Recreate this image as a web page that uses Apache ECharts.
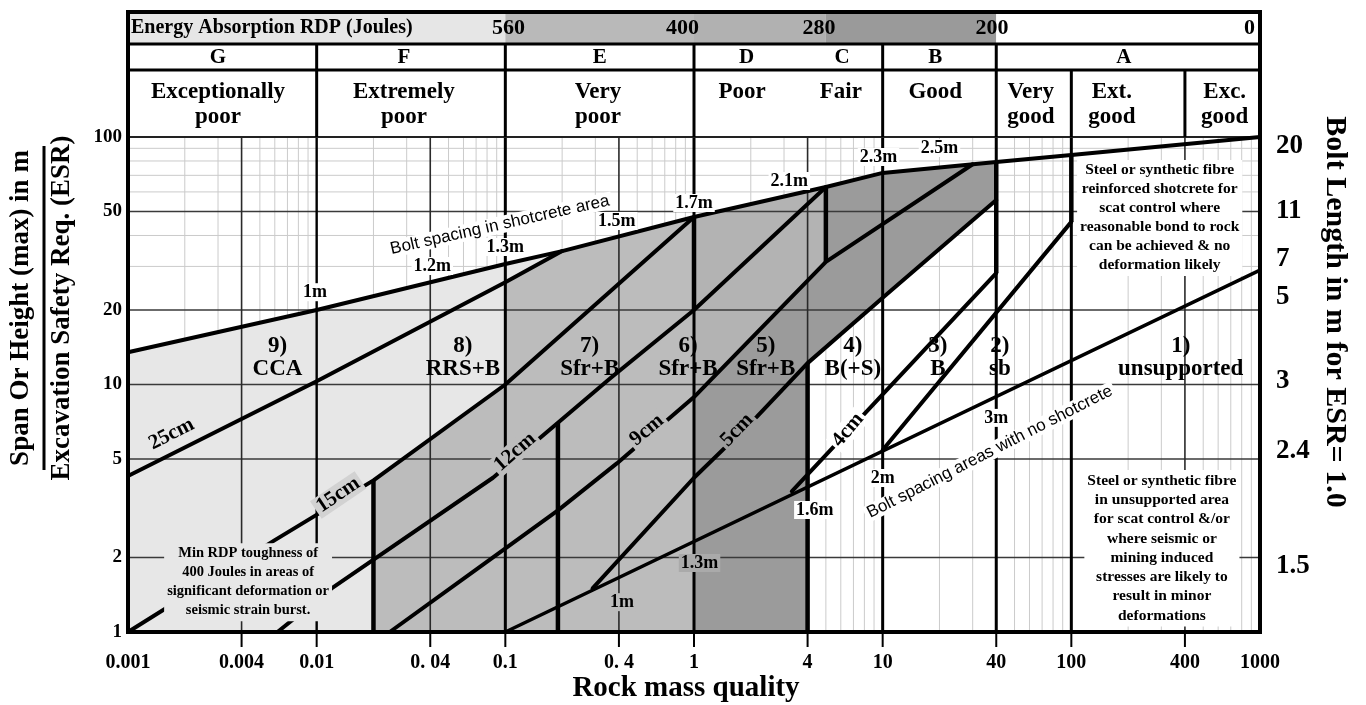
<!DOCTYPE html>
<html>
<head>
<meta charset="utf-8">
<title>Q-system support chart</title>
<script src="https://cdn.jsdelivr.net/npm/echarts@6.0.0/dist/echarts.min.js"></script>
<style>
html,body{margin:0;padding:0;background:#fff;}
#chart{width:1366px;height:705px;}
</style>
</head>
<body>
<div id="chart"></div>
<script>
// ================= DATA =================
const xTickValues = [0.001, 0.004, 0.01, 0.04, 0.1, 0.4, 1, 4, 10, 40, 100, 400, 1000];
const xTickLabels = ['0.001', '0.004', '0.01', '0. 04', '0.1', '0. 4', '1', '4', '10', '40', '100', '400', '1000'];
const yTickValues = [1, 2, 5, 10, 20, 50, 100];
const yTickLabels = ['1', '2', '5', '10', '20', '50', '100'];
const boltLengthLabels = ['20', '11', '7', '5', '3', '2.4', '1.5'];
const boltLengthSpan = [92, 50, 32, 22.6, 10.3, 5.4, 1.85];

const majorSpanGrid = [2, 5, 10, 20, 50];
const minorSpanGrid = [30, 40, 60, 70, 80, 90];
const majorQGrid = [0.004, 0.04, 0.4, 4, 400];
const classLineQ = [0.01, 0.1, 1, 10, 40, 100];

// header
const energyTitle = 'Energy Absorption RDP (Joules)';
const energyBandQ = [0.001, 0.1, 1, 5, 40, 1000];
const energyLabels = ['560', '400', '280', '200', '0'];
const energyLabelQ = [0.104, 0.87, 4.6, 38, 880];
const letterRowBoundaryQ = [0.01, 0.1, 1, 10, 40];
const qualityRowBoundaryQ = [0.01, 0.1, 1, 10, 40, 100, 400];
const classLetters = ['G', 'F', 'E', 'D', 'C', 'B', 'A'];
const classLetterQ = [0.003, 0.029, 0.317, 1.9, 6.1, 19, 190];
const qualityNames = ['Exceptionally\npoor', 'Extremely\npoor', 'Very\npoor', 'Poor', 'Fair', 'Good', 'Very\ngood', 'Ext.\ngood', 'Exc.\ngood'];
const qualityNameQ = [0.003, 0.029, 0.31, 1.8, 6.0, 19, 61, 164, 650];

// curves: [rock mass quality Q, span/ESR]
const upperBoltLine = [[0.001, 13.5], [0.01, 20], [0.1, 30.7], [0.2, 34.6], [1, 47.5], [5, 62.8], [10, 71.6], [40, 79.3], [100, 84.6], [1000, 100]];
const lowerBoltLine = [[0.1, 1], [1000, 29]];
const line25cm = [[0.001, 4.27], [0.01, 10.3], [0.1, 25.9], [0.2, 34.6]];
const line15cm = [[0.001, 1], [0.006, 2.35], [0.02, 4.1], [0.1, 10], [1, 47.5]];
const line12cm = [[0.0062, 1], [0.012, 1.5], [0.086, 4.2], [0.19, 7.0], [0.36, 10.6], [1, 20], [5, 62.8]];
const line9cm = [[0.0244, 1], [0.073, 1.83], [0.19, 3.1], [0.39, 4.8], [1, 8.9], [5, 31.3], [30, 77.6]];
const line5cm = [[0.29, 1.5], [1, 4.2], [2.15, 7.4], [4, 12.2], [10, 22.4], [40, 55.6]];
const line4cm = [[3.3, 3.7], [40, 28.2]];
const lineBolting = [[10, 5.44], [100, 45.4]];
// vertical boundaries: [Q, span from, span to]
const verticalBounds = [[0.02, 1, 4.1], [0.19, 1, 7.0], [1, 20, 47.5], [4, 1, 12.2], [5, 31.3, 62.8], [40, 28.2, 79.3], [100, 45.4, 84.6]];

// annotations (text, anchor [Q, span])
const upperSpacingText = ['1m', '1.2m', '1.3m', '1.5m', '1.7m', '2.1m', '2.3m', '2.5m'];
const upperSpacingAt = [[0.0098, 23.6], [0.041, 30.1], [0.1, 35.9], [0.39, 45.8], [1, 54.1], [3.2, 66.4], [9.5, 83], [20, 90.3]];
const lowerSpacingText = ['1m', '1.3m', '1.6m', '2m', '3m'];
const lowerSpacingAt = [[0.415, 1.32], [1.07, 1.9], [4.37, 3.11], [10, 4.19], [40, 7.33]];
const thicknessText = ['25cm', '15cm', '12cm', '9cm', '5cm', '4cm'];
const thicknessAt = [[0.0017, 6.3], [0.013, 3.58], [0.1125, 5.34], [0.563, 6.55], [1.69, 6.55], [6.54, 6.55]];
const regionText = ['9)\nCCA', '8)\nRRS+B', '7)\nSfr+B', '6)\nSfr+B', '5)\nSfr+B', '4)\nB(+S)', '3)\nB', '2)\nsb', '1)\nunsupported'];
const regionQ = [0.0062, 0.0596, 0.28, 0.93, 2.4, 6.95, 19.6, 41.8, 380];
const regionSpan = 12.8;
const upperLineTitle = 'Bolt spacing in shotcrete area';
const upperLineTitleAt = [0.0935, 44.1];
const lowerLineTitle = 'Bolt spacing areas with no shotcrete';
const lowerLineTitleAt = [37, 5.34];
const noteRDP = 'Min RDP toughness of\n400 Joules in areas of\nsignificant deformation or\nseismic strain burst.';
const noteRDPAt = [0.00433, 1.59];
const noteShotcrete = 'Steel or synthetic fibre\nreinforced shotcrete for\nscat control where\nreasonable bond to rock\ncan be achieved & no\ndeformation likely';
const noteShotcreteAt = [294, 47.1];
const noteUnsupported = 'Steel or synthetic fibre\nin unsupported area\nfor scat control &/or\nwhere seismic or\nmining induced\nstresses are likely to\nresult in minor\ndeformations';
const noteUnsupportedAt = [302, 2.18];

const xTitle = 'Rock mass quality';
const yTitleTop = 'Span Or Height (max) in m';
const yTitleBottom = 'Excavation Safety Req. (ESR)';
const rightTitle = 'Bolt Length in m for ESR= 1.0';

// ================= STYLE =================
const SERIF = '"Liberation Serif","Times New Roman",serif';
const SANS = '"Liberation Sans",Arial,sans-serif';
const fnt = (px, fam) => 'bold ' + px + 'px ' + (fam || SERIF);
const FILL = { light: '#e7e7e7', mid: '#bcbcbc', mid2: '#b3b3b3', dark: '#9b9b9b' };
const ENERGY_COLORS = ['#e6e6e6', '#b9b9b9', '#b1b1b1', '#9a9a9a', '#ffffff'];
const THICK_ROT = [27, 34, 41, 40, 46, 50];
const THICK_BG = ['transparent', '#d2d2d2', FILL.mid, FILL.mid, FILL.dark, '#ffffff'];
const LOWER_BG = [FILL.mid, '#aaaaaa', '#ffffff', '#ffffff', '#ffffff'];

function seg(x1, y1, x2, y2, stroke, w) {
  return { type: 'line', shape: { x1, y1, x2, y2 }, style: { stroke, lineWidth: w } };
}
function txt(x, y, text, font, extra, rotDeg) {
  return {
    type: 'text', x, y, rotation: (rotDeg || 0) * Math.PI / 180,
    style: Object.assign({ text, font, fill: '#000', align: 'center', verticalAlign: 'middle' }, extra || {})
  };
}
function layer(name, z, build) {
  return {
    type: 'custom', name, z, silent: true, clip: false, animation: false,
    xAxisIndex: 0, yAxisIndex: 0, data: [[1, 1]],
    renderItem: (params, api) => ({ type: 'group', children: build(api) })
  };
}
function curve(name, data, w) {
  return {
    type: 'line', name, data, z: 4, showSymbol: false, symbol: 'none', silent: true, animation: false,
    lineStyle: { color: '#000', width: w, cap: 'round', join: 'round' }
  };
}
// pick the points of a curve between two Q values
function pick(line, qa, qb, rev) {
  const r = line.filter(p => p[0] >= qa * 0.9999 && p[0] <= qb * 1.0001);
  return rev ? r.slice().reverse() : r;
}

const polyLight = [[0.001, 1], ...pick(upperBoltLine, 0.001, 0.2), [0.2, 1]];
const polyMid = [[0.02, 1], ...pick(line15cm, 0.02, 0.1), ...pick(line25cm, 0.1, 0.2), ...pick(upperBoltLine, 0.2, 1), [1, 1]];
const polyMid2 = [...pick(upperBoltLine, 1, 5), ...pick(line9cm, 1, 5, true)];
const polyDark = [[1, 1], ...pick(line9cm, 1, 5), ...pick(upperBoltLine, 5, 40), ...pick(line5cm, 4, 40, true), [4, 1]];

// ================= LAYERS =================
function buildMinorGrid(api) {
  const out = [];
  const [xl, yb] = api.coord([0.001, 1]);
  const [xr, yt] = api.coord([1000, 100]);
  for (let e = -3; e < 3; e++) {
    const d = Math.pow(10, e);
    for (let m = 2; m <= 9; m++) {
      if (m === 4) continue;
      const x = api.coord([d * m, 1])[0];
      out.push(seg(x, yt, x, yb, '#cbcbcb', 1));
    }
  }
  minorSpanGrid.forEach(s => { const y = api.coord([1, s])[1]; out.push(seg(xl, y, xr, y, '#cbcbcb', 1)); });
  return out;
}
function buildFills(api) {
  const P = arr => arr.map(p => api.coord(p));
  const out = [];
  [[polyLight, FILL.light], [polyMid, FILL.mid], [polyMid2, FILL.mid2], [polyDark, FILL.dark]].forEach(([pts, c]) => {
    out.push({ type: 'polygon', shape: { points: P(pts) }, style: { fill: c } });
  });
  // header energy bands
  const top = api.coord([1, 100])[1];
  const yF = top - 125, y1 = top - 93;
  for (let i = 0; i < energyBandQ.length - 1; i++) {
    const a = api.coord([energyBandQ[i], 100])[0], b = api.coord([energyBandQ[i + 1], 100])[0];
    out.push({ type: 'rect', shape: { x: a, y: yF, width: b - a, height: y1 - yF }, style: { fill: ENERGY_COLORS[i] } });
  }
  return out;
}
function buildMajorGrid(api) {
  const out = [];
  const [xl, yb] = api.coord([0.001, 1]);
  const [xr, yt] = api.coord([1000, 100]);
  majorSpanGrid.forEach(s => { const y = api.coord([1, s])[1]; out.push(seg(xl, y, xr, y, '#3a3a3a', 1.6)); });
  majorQGrid.forEach(q => { const x = api.coord([q, 1])[0]; out.push(seg(x, yt, x, yb, '#2a2a2a', 1.6)); });
  classLineQ.forEach(q => { const x = api.coord([q, 1])[0]; out.push(seg(x, yt, x, yb, '#000', q === 0.01 ? 2.4 : 3)); });
  out.push(seg(xl, yt, xr, yt, '#222', 2));
  // header separators
  const yF = yt - 125, y1 = yt - 93, y2 = yt - 67;
  out.push(seg(xl, y1, xr, y1, '#000', 3));
  out.push(seg(xl, y2, xr, y2, '#000', 3));
  letterRowBoundaryQ.forEach(q => { const x = api.coord([q, 1])[0]; out.push(seg(x, y1, x, y2, '#000', 3)); });
  qualityRowBoundaryQ.forEach(q => { const x = api.coord([q, 1])[0]; out.push(seg(x, y2, x, yt, '#000', 3)); });
  // x ticks
  xTickValues.slice(1, -1).forEach(q => { const x = api.coord([q, 1])[0]; out.push(seg(x, yb, x, yb + 15, '#000', 2)); });
  return out;
}
function buildVerticals(api) {
  return verticalBounds.map(v => {
    const a = api.coord([v[0], v[1]]), b = api.coord([v[0], v[2]]);
    return seg(a[0], a[1], b[0], b[1], '#000', 4.5);
  });
}
function buildFrame(api) {
  const [xl, yb] = api.coord([0.001, 1]);
  const [xr, yt] = api.coord([1000, 100]);
  const yF = yt - 125;
  return [{ type: 'rect', shape: { x: xl, y: yF, width: xr - xl, height: yb - yF }, style: { fill: 'none', stroke: '#000', lineWidth: 4 } }];
}
function buildLabels(api) {
  const C = p => api.coord(p);
  const out = [];
  upperSpacingText.forEach((t, i) => { const p = C(upperSpacingAt[i]); out.push(txt(p[0], p[1], t, fnt(18), { backgroundColor: '#fff', padding: [0, 2] })); });
  lowerSpacingText.forEach((t, i) => { const p = C(lowerSpacingAt[i]); out.push(txt(p[0], p[1], t, fnt(18), { backgroundColor: LOWER_BG[i], padding: [0, 2] })); });
  thicknessText.forEach((t, i) => { const p = C(thicknessAt[i]); out.push(txt(p[0], p[1], t, fnt(21), { backgroundColor: THICK_BG[i], padding: [0, 3] }, THICK_ROT[i])); });
  regionText.forEach((t, i) => { const p = C([regionQ[i], regionSpan]); out.push(txt(p[0], p[1], t, fnt(23), { lineHeight: 23 })); });
  let p = C(upperLineTitleAt);
  out.push(txt(p[0], p[1], upperLineTitle, 'normal 17px ' + SANS, { backgroundColor: '#fff', padding: [0, 3] }, 12.6));
  p = C(lowerLineTitleAt);
  out.push(txt(p[0], p[1], lowerLineTitle, 'normal 17px ' + SANS, { backgroundColor: '#fff', padding: [0, 3] }, 27));
  p = C(noteRDPAt);
  out.push(txt(p[0], p[1], noteRDP, fnt(14.5), { lineHeight: 19, backgroundColor: FILL.light, padding: [1, 3] }));
  p = C(noteShotcreteAt);
  out.push(txt(p[0], p[1], noteShotcrete, fnt(15.5), { lineHeight: 19, backgroundColor: '#fff', padding: [1, 3] }));
  p = C(noteUnsupportedAt);
  out.push(txt(p[0], p[1], noteUnsupported, fnt(15.5), { lineHeight: 19.3, backgroundColor: '#fff', padding: [1, 3] }));
  return out;
}
function buildText(api) {
  const out = [];
  const [xl, yb] = api.coord([0.001, 1]);
  const [xr, yt] = api.coord([1000, 100]);
  // header
  const yF = yt - 125, y1 = yt - 93, y2 = yt - 67;
  out.push(txt(xl + 3, (yF + y1) / 2, energyTitle, fnt(20), { align: 'left' }));
  energyLabels.forEach((t, i) => { const x = api.coord([energyLabelQ[i], 1])[0]; out.push(txt(x, (yF + y1) / 2, t, fnt(22))); });
  classLetters.forEach((t, i) => { const x = api.coord([classLetterQ[i], 1])[0]; out.push(txt(x, (y1 + y2) / 2 + 1, t, fnt(21))); });
  qualityNames.forEach((t, i) => { const x = api.coord([qualityNameQ[i], 1])[0]; out.push(txt(x, y2 + 10, t, fnt(23), { verticalAlign: 'top', lineHeight: 25 })); });
  // axis tick labels
  xTickValues.forEach((v, i) => { const x = api.coord([v, 1])[0]; out.push(txt(x, yb + 31, xTickLabels[i], fnt(20))); });
  yTickValues.forEach((v, i) => { const y = api.coord([1, v])[1]; out.push(txt(xl - 6, y, yTickLabels[i], fnt(19), { align: 'right' })); });
  boltLengthLabels.forEach((t, i) => { const y = api.coord([1000, boltLengthSpan[i]])[1]; out.push(txt(xr + 16, y, t, fnt(27), { align: 'left' })); });
  // titles
  out.push(txt((xl + xr) / 2 - 8, yb + 57, xTitle, fnt(29)));
  const yc = yt + 171;
  out.push(txt(xl - 107, yc, yTitleTop, fnt(27), null, 90));
  out.push(seg(xl - 84, yc - 162, xl - 84, yc + 162, '#000', 3));
  out.push(txt(xl - 66, yc, yTitleBottom, fnt(27), null, 90));
  out.push(txt(xr + 75, yt + 175, rightTitle, fnt(30), null, -90));
  return out;
}

// ================= CHART =================
const chart = echarts.init(document.getElementById('chart'), null, { renderer: 'canvas' });
const hiddenAxis = {
  type: 'log', logBase: 10,
  axisLine: { show: false }, axisTick: { show: false }, axisLabel: { show: false }, splitLine: { show: false }
};
chart.setOption({
  animation: false,
  backgroundColor: '#ffffff',
  grid: { left: 128, right: 106, top: 137, bottom: 73 },
  xAxis: Object.assign({ min: 0.001, max: 1000 }, hiddenAxis),
  yAxis: Object.assign({ min: 1, max: 100 }, hiddenAxis),
  series: [
    layer('minor grid', 1, buildMinorGrid),
    layer('support fills', 2, buildFills),
    layer('major grid', 3, buildMajorGrid),
    curve('Bolt spacing in shotcrete area', upperBoltLine, 4),
    curve('Bolt spacing areas with no shotcrete', lowerBoltLine, 3.5),
    curve('25cm', line25cm, 4),
    curve('15cm', line15cm, 4),
    curve('12cm', line12cm, 4),
    curve('9cm', line9cm, 4),
    curve('5cm', line5cm, 4),
    curve('4cm', line4cm, 4),
    curve('B', lineBolting, 4),
    layer('boundaries', 4, buildVerticals),
    layer('labels', 5, buildLabels),
    layer('frame', 6, buildFrame),
    layer('text', 6, buildText)
  ]
});
</script>
</body>
</html>
